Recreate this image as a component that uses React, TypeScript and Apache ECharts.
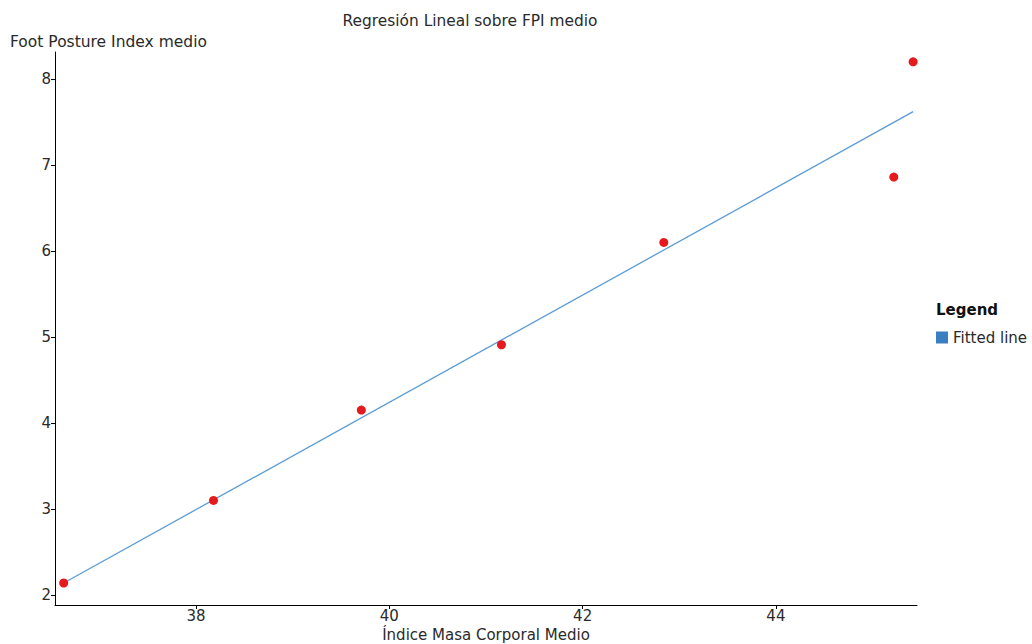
import React, { useEffect, useRef } from "react";
import * as echarts from "echarts";

const chartTitle = "Regresión Lineal sobre FPI medio";
const xAxisName = "Índice Masa Corporal Medio";
const yAxisName = "Foot Posture Index medio";
const legendTitle = "Legend";
const lineName = "Fitted line";

const imcValues = [36.63, 38.18, 39.71, 41.16, 42.84, 45.22, 45.42];
const fpiValues = [2.14, 3.1, 4.15, 4.91, 6.1, 6.86, 8.2];
const fitX = [36.63, 45.42];
const fitY = [2.14, 7.62];
const xTicks = [38, 40, 42, 44];
const yTicks = [2, 3, 4, 5, 6, 7, 8];

const FONT = "DejaVu Sans";
const TXT = "#2a2a2a";

export default function App() {
  const ref = useRef<HTMLDivElement>(null);
  useEffect(() => {
    if (!ref.current) return;
    const chart = echarts.init(ref.current, null, { renderer: "svg" });
    chart.setOption({
      animation: false,
      textStyle: { fontFamily: FONT },
      title: {
        text: chartTitle,
        left: 465,
        textAlign: "center",
        top: 8,
        textStyle: { fontFamily: FONT, fontSize: 15.4, fontWeight: "normal", color: TXT },
      },
      grid: { left: 55, top: 52, right: 115, bottom: 39, containLabel: false, outerBoundsMode: "none" },
      legend: {
        data: [{ name: lineName, icon: "rect", itemStyle: { color: "#3a7fc1" } }],
        left: 931,
        top: 325,
        itemWidth: 12,
        itemHeight: 12,
        itemGap: 6,
        textStyle: { fontFamily: FONT, fontSize: 15, color: TXT },
      },
      graphic: [
        {
          type: "text",
          left: 10,
          top: 34,
          style: { text: yAxisName, fontFamily: FONT, fontSize: 15.5, fill: TXT },
        },
        {
          type: "text",
          left: 936,
          top: 302,
          style: { text: legendTitle, fontFamily: FONT, fontSize: 15, fontWeight: "bold", fill: "#111" },
        },
      ],
      xAxis: {
        type: "value",
        min: 36.54,
        max: 45.46,
        name: xAxisName,
        nameLocation: "middle",
        nameGap: 18,
        nameTextStyle: { fontFamily: FONT, fontSize: 15, color: TXT },
        axisLine: { show: true, lineStyle: { color: "#000", width: 1 } },
        axisTick: { show: true, length: 4, customValues: xTicks, lineStyle: { color: "#000" } },
        axisLabel: { customValues: xTicks, fontFamily: FONT, fontSize: 15, color: TXT, margin: 3 },
        splitLine: { show: false },
      },
      yAxis: {
        type: "value",
        min: 1.884,
        max: 8.314,
        axisLine: { show: true, lineStyle: { color: "#000", width: 1 } },
        axisTick: { show: true, length: 4, customValues: yTicks, lineStyle: { color: "#000" } },
        axisLabel: { customValues: yTicks, fontFamily: FONT, fontSize: 15, color: TXT, margin: 4 },
        splitLine: { show: false },
      },
      series: [
        {
          name: lineName,
          type: "line",
          data: fitX.map((x, i) => [x, fitY[i]]),
          showSymbol: false,
          symbol: "none",
          lineStyle: { color: "#5b9bd5", width: 1.3 },
          itemStyle: { color: "#3a7fc1" },
          z: 2,
        },
        {
          name: "Datos",
          type: "scatter",
          data: imcValues.map((x, i) => [x, fpiValues[i]]),
          symbolSize: 9,
          itemStyle: { color: "#e41a1c", opacity: 1 },
          z: 3,
        },
      ],
    });
    return () => chart.dispose();
  }, []);
  return <div ref={ref} style={{ width: 1032, height: 644, position: "absolute", left: 0, top: 0 }} />;
}
